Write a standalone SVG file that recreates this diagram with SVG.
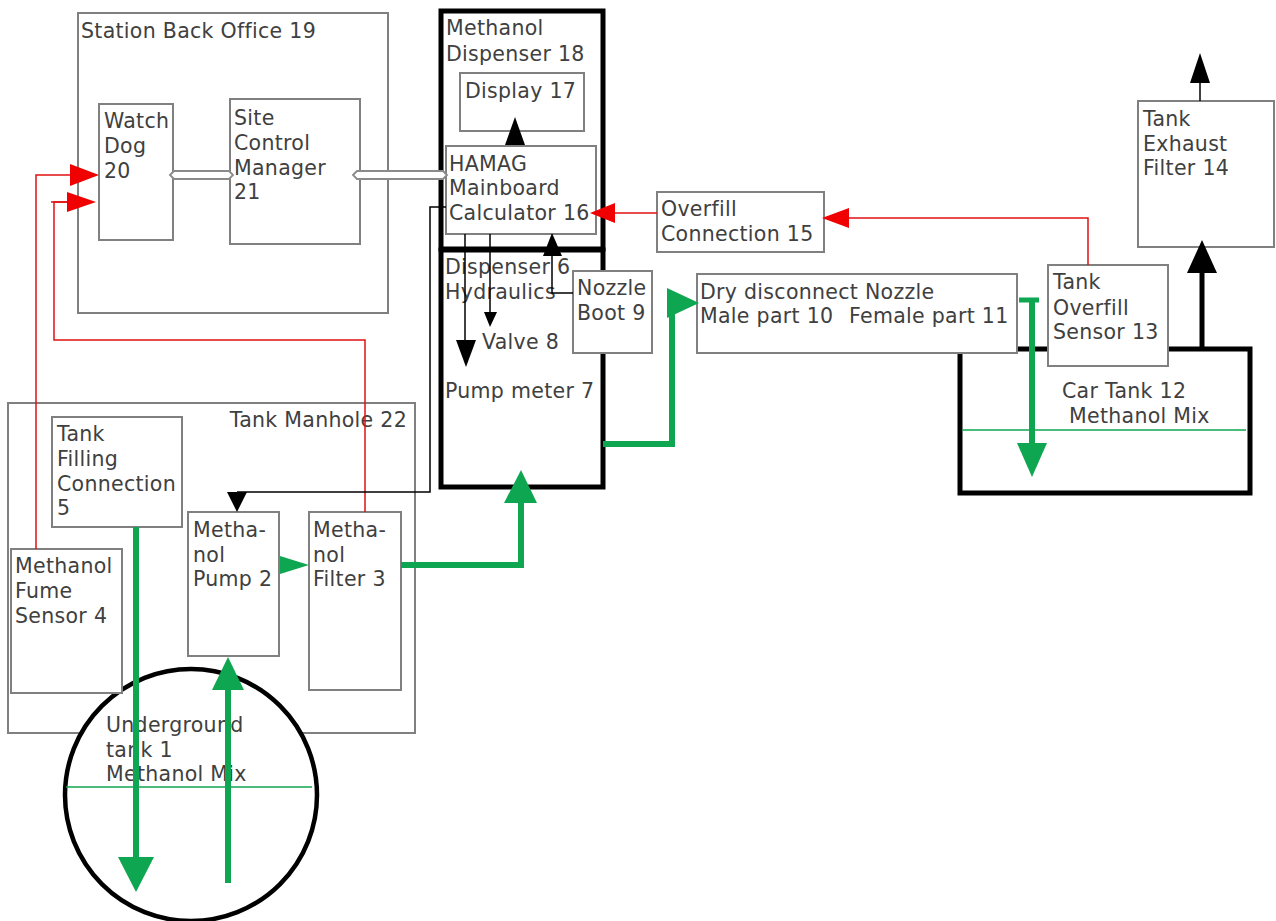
<svg xmlns="http://www.w3.org/2000/svg" width="1276" height="921" viewBox="0 0 1276 921">
<style>
text{font-family:"DejaVu Sans","Liberation Sans",sans-serif;font-size:20.5px;fill:#404040;letter-spacing:0.3px}
.box{fill:#fff;stroke:#808080;stroke-width:2}
.thick{fill:#fff;stroke:#000;stroke-width:5}
.g{fill:none;stroke:#0fa651;stroke-width:6}
.gh{fill:#0fa651;stroke:none}
.gthin{fill:none;stroke:#0fa651;stroke-width:1.5}
.k{fill:none;stroke:#000;stroke-width:1.5}
.kh{fill:#000;stroke:none}
.r{fill:none;stroke:#e01010;stroke-width:1.5}
.rh{fill:#f00000;stroke:none}
.hollow{fill:#fff;stroke:#8a8a8a;stroke-width:1.8}
</style>
<rect width="1276" height="921" fill="#fff"/>

<g id="station-back-office-19">
<rect class="box" x="78" y="13" width="310" height="300"/>
<text x="81" y="38">Station Back Office 19</text>
</g>
<g id="watch-dog-20">
<rect class="box" x="99" y="104" width="74" height="136"/>
<text x="104" y="128">Watch</text><text x="104" y="153">Dog</text><text x="104" y="178">20</text>
</g>
<g id="site-control-manager-21">
<rect class="box" x="230" y="99" width="130" height="145"/>
<text x="234" y="125">Site</text><text x="234" y="150">Control</text><text x="234" y="175">Manager</text><text x="234" y="199">21</text>
</g>

<g id="methanol-dispenser-18">
<rect class="thick" x="441" y="11" width="162" height="238"/>
<text x="446" y="35">Methanol</text><text x="446" y="61">Dispenser 18</text>
</g>
<g id="display-17">
<rect class="box" x="460" y="73" width="124" height="58"/>
<text x="465" y="98">Display 17</text>
</g>
<g id="hamag-mainboard-16">
<rect class="box" x="446" y="146" width="150" height="88"/>
<text x="449" y="171">HAMAG</text><text x="449" y="195">Mainboard</text><text x="449" y="220">Calculator 16</text>
</g>
<g id="dispenser-hydraulics-6">
<rect class="thick" x="441" y="250" width="162" height="237"/>
<text x="445" y="274">Dispenser 6</text><text x="445" y="299">Hydraulics</text>
<text x="482" y="349">Valve 8</text>
<text x="445" y="398">Pump meter 7</text>
</g>
<g id="nozzle-boot-9">
<rect class="box" x="573" y="271" width="79" height="82"/>
<text x="577" y="295">Nozzle</text><text x="577" y="320">Boot 9</text>
</g>
<g id="overfill-connection-15">
<rect class="box" x="657" y="192" width="167" height="60"/>
<text x="661" y="216">Overfill</text><text x="661" y="241">Connection 15</text>
</g>

<g id="car-tank-12">
<rect class="thick" x="960" y="349" width="290" height="144"/>
<line class="gthin" x1="962" y1="430" x2="1246" y2="430"/>
<text x="1062" y="398">Car Tank 12</text><text x="1069" y="423">Methanol Mix</text>
</g>
<g id="dry-disconnect-nozzle">
<rect class="box" x="697" y="274" width="320" height="79"/>
<text x="700" y="299">Dry disconnect Nozzle</text>
<text x="700" y="323">Male part 10</text><text x="849" y="323">Female part 11</text>
</g>
<g id="tank-overfill-sensor-13">
<rect class="box" x="1048" y="265" width="120" height="101"/>
<text x="1053" y="289">Tank</text><text x="1053" y="315">Overfill</text><text x="1053" y="339">Sensor 13</text>
</g>
<g id="tank-exhaust-filter-14">
<rect class="box" x="1138" y="101" width="136" height="146"/>
<text x="1143" y="126">Tank</text><text x="1143" y="151">Exhaust</text><text x="1143" y="175">Filter 14</text>
</g>

<g id="tank-manhole-22">
<rect class="box" x="8" y="403" width="407" height="330"/>
<text x="407" y="427" text-anchor="end">Tank Manhole 22</text>
</g>
<g id="tank-filling-connection-5">
<rect class="box" x="52" y="417" width="130" height="110"/>
<text x="57" y="441">Tank</text><text x="57" y="466">Filling</text><text x="57" y="491">Connection</text><text x="57" y="515">5</text>
</g>
<g id="methanol-pump-2">
<rect class="box" x="188" y="512" width="91" height="144"/>
<text x="193" y="537">Metha-</text><text x="193" y="562">nol</text><text x="193" y="586">Pump 2</text>
</g>
<g id="methanol-filter-3">
<rect class="box" x="309" y="512" width="92" height="178"/>
<text x="313" y="537">Metha-</text><text x="313" y="562">nol</text><text x="313" y="586">Filter 3</text>
</g>
<g id="underground-tank-1">
<circle cx="191" cy="795" r="126" fill="#fff" stroke="#000" stroke-width="4.5"/>
<line class="gthin" x1="66" y1="787" x2="312" y2="787"/>
<text x="106" y="732">Underground</text><text x="106" y="757">tank 1</text><text x="106" y="781">Methanol Mix</text>
</g>
<g id="methanol-fume-sensor-4">
<rect class="box" x="11" y="549" width="111" height="144"/>
<text x="15" y="573">Methanol</text><text x="15" y="598">Fume</text><text x="15" y="623">Sensor 4</text>
</g>

<g id="connectors">
<!-- hollow data links -->
<path class="hollow" d="M170,175 L174,171 L229,171 L233,175 L229,179 L174,179 Z"/>
<path class="hollow" d="M353,175 L357,171 L443,171 L447,175 L443,179 L357,179 Z"/>

<!-- red signal lines -->
<polyline class="r" points="36,549 36,175 70,175"/>
<polygon class="rh" points="70,164 70,186 99,175"/>
<polyline class="r" points="365,512 365,340 54,340 54,202 67,202"/>
<line class="r" x1="51" y1="202" x2="67" y2="202"/>
<polygon class="rh" points="67,192 67,212 96,202"/>
<line class="r" x1="657" y1="213" x2="614" y2="213"/>
<polygon class="rh" points="615,203 615,223 590,213"/>
<polyline class="r" points="1088,265 1088,218 849,218"/>
<polygon class="rh" points="849,208 849,228 822,218"/>

<!-- black control lines -->
<polygon class="kh" points="505,145 525,145 515,117"/>
<polyline class="k" points="573,293 552,293 552,255"/>
<polygon class="kh" points="543,256 562,256 552,233"/>
<line class="k" x1="465" y1="234" x2="465" y2="341"/>
<polygon class="kh" points="456,340 476,340 466,367"/>
<line class="k" x1="490" y1="234" x2="490" y2="313"/>
<polygon class="kh" points="484,312 497,312 490,327"/>
<polyline class="k" points="446,207 430,207 430,492 237,492"/>
<polygon class="kh" points="227,492 247,492 237,512"/>
<line stroke="#000" stroke-width="5" x1="1202" y1="350" x2="1202" y2="272"/>
<polygon class="kh" points="1187,273 1217,273 1202,240"/>
<line class="k" x1="1200" y1="101" x2="1200" y2="82"/>
<polygon class="kh" points="1190,83 1210,83 1200,53"/>

<!-- green methanol flow -->
<line class="g" x1="136" y1="527" x2="136" y2="858"/>
<polygon class="gh" points="118,857 154,857 136,892"/>
<line class="g" x1="228" y1="883" x2="228" y2="689"/>
<polygon class="gh" points="212,690 244,690 228,657"/>
<polygon class="gh" points="280,556 280,574 309,565"/>
<polyline class="g" points="401,565 521,565 521,502"/>
<polygon class="gh" points="504,503 537,503 521,470"/>
<polyline class="g" points="603,444 672,444 672,303 668,303"/>
<polygon class="gh" points="667,288 667,318 699,303"/>
<line stroke="#0fa651" stroke-width="5" x1="1019" y1="300" x2="1039" y2="300"/>
<line class="g" x1="1032" y1="300" x2="1032" y2="444"/>
<polygon class="gh" points="1017,443 1047,443 1032,477"/>
</g>
</svg>
